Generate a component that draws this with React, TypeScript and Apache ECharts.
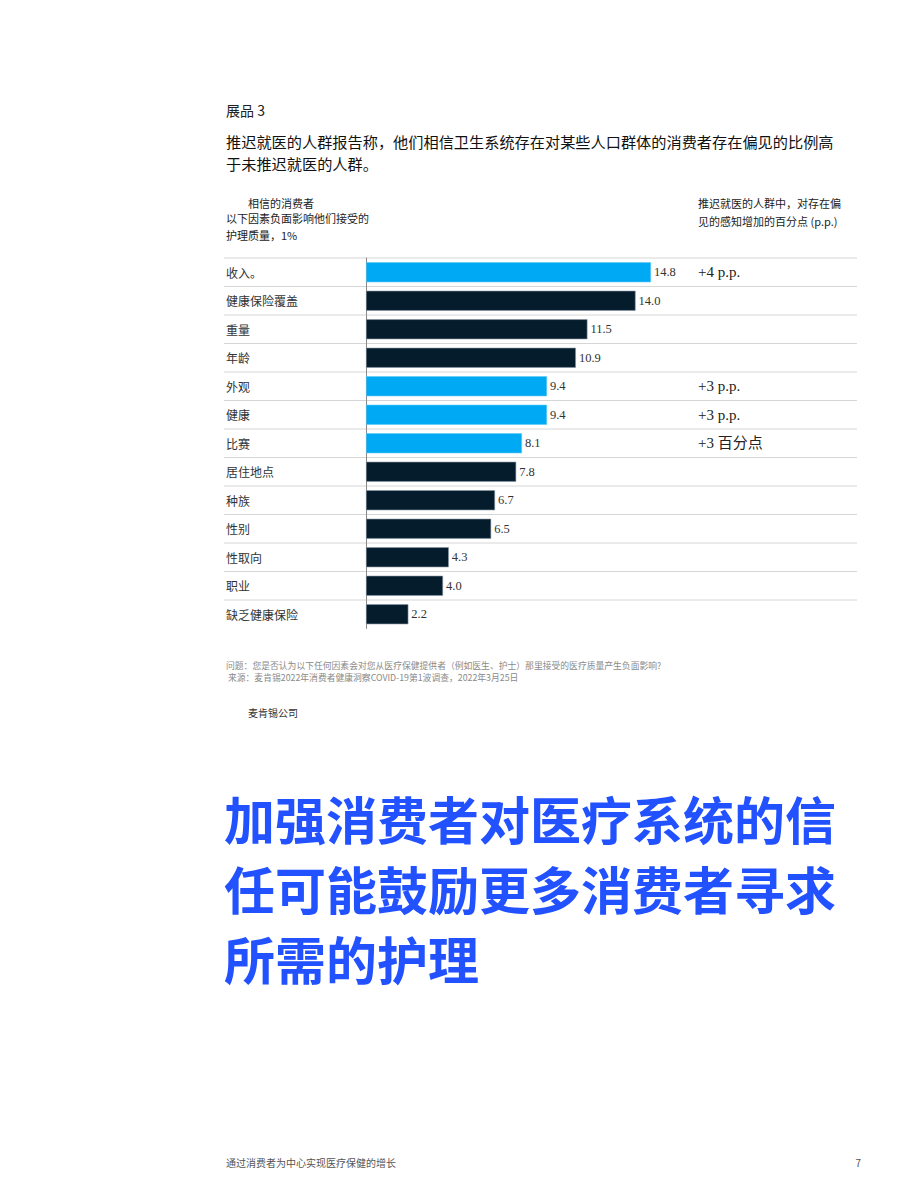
import React, { useEffect, useRef } from "react";
import * as echarts from "echarts";

const categories = [
  "收入。",
  "健康保险覆盖",
  "重量",
  "年龄",
  "外观",
  "健康",
  "比赛",
  "居住地点",
  "种族",
  "性别",
  "性取向",
  "职业",
  "缺乏健康保险",
];
const values = [14.8, 14.0, 11.5, 10.9, 9.4, 9.4, 8.1, 7.8, 6.7, 6.5, 4.3, 4.0, 2.2];
const highlighted = [true, false, false, false, true, true, true, false, false, false, false, false, false];
const annotations = ["+4 p.p.", "", "", "", "+3 p.p.", "+3 p.p.", "+3 百分点", "", "", "", "", "", ""];

const BLUE = "#00A9F4";
const NAVY = "#051C2C";
const CJK = "'Noto Sans CJK SC', 'Noto Sans', sans-serif";
const SERIF = "'Liberation Serif', 'DejaVu Serif', serif";

export default function App() {
  const ref = useRef<HTMLDivElement>(null);

  useEffect(() => {
    if (!ref.current) return;
    const chart = echarts.init(ref.current, null, { renderer: "svg" });

    const gridLeft = 366;
    const gridTop = 258;
    const bandH = 28.5;
    const gridHeight = bandH * categories.length;
    const gridWidth = 491;

    const separators = categories.map((_, i) => ({
      type: "line",
      shape: { x1: 224, y1: gridTop + i * bandH, x2: gridLeft + gridWidth, y2: gridTop + i * bandH },
      style: { stroke: "#d6d6d6", lineWidth: 1 },
      z: 0,
    }));

    const txt = (text: string, x: number, y: number, fontSize: number, fill: string, extra: any = {}) => ({
      type: "text",
      x,
      y,
      style: {
        text,
        fill,
        fontSize,
        fontFamily: CJK,
        align: "left",
        verticalAlign: "middle",
        ...extra,
      },
    });

    chart.setOption({
      animation: false,
      backgroundColor: "#ffffff",
      grid: { left: gridLeft, top: gridTop, width: gridWidth, height: gridHeight, containLabel: false },
      xAxis: {
        type: "value",
        min: 0,
        max: 25.5,
        show: false,
      },
      yAxis: [
        {
          type: "category",
          data: categories,
          inverse: true,
          axisLine: { show: true, lineStyle: { color: "#8a8a8a", width: 1 } },
          axisTick: { show: false },
          splitLine: { show: false },
          axisLabel: {
            align: "left",
            margin: 140,
            color: "#333333",
            fontSize: 12,
            fontFamily: CJK,
          },
        },
        {
          type: "category",
          data: annotations,
          inverse: true,
          position: "right",
          offset: -159,
          axisLine: { show: false },
          axisTick: { show: false },
          splitLine: { show: false },
          axisLabel: {
            align: "left",
            margin: 0,
            color: "#222222",
            fontSize: 15,
            fontFamily: SERIF + ", " + CJK,
          },
        },
      ],
      series: [
        {
          type: "bar",
          data: values.map((v, i) => ({
            value: v,
            itemStyle: {
              color: highlighted[i] ? BLUE : NAVY,
              borderColor: highlighted[i] ? "#5cc8f7" : "#8797a6",
              borderWidth: 0.6,
            },
          })),
          barWidth: 20,
          label: {
            show: true,
            position: "right",
            distance: 3,
            color: "#333333",
            fontSize: 12.5,
            fontFamily: SERIF,
            formatter: (p: any) => Number(p.value).toFixed(1),
          },
          z: 3,
        },
      ],
      graphic: [
        ...separators,
        txt("展品 3", 226, 110, 14, "#222222"),
        txt("推迟就医的人群报告称，他们相信卫生系统存在对某些人口群体的消费者存在偏见的比例高", 226, 141, 15.2, "#111111"),
        txt("于未推迟就医的人群。", 226, 163, 15.2, "#111111"),
        txt("相信的消费者", 248, 203, 11, "#222222"),
        txt("以下因素负面影响他们接受的", 226, 218, 11, "#222222"),
        txt("护理质量，1%", 226, 235, 11, "#222222"),
        txt("推迟就医的人群中，对存在偏", 698, 203, 11, "#222222"),
        txt("见的感知增加的百分点 (p.p.)", 698, 221, 11, "#222222"),
        txt("问题：您是否认为以下任何因素会对您从医疗保健提供者（例如医生、护士）那里接受的医疗质量产生负面影响?", 226, 665.5, 8.8, "#8a8a8a", { lineHeight: 10 }),
        txt(" 来源：麦肯锡2022年消费者健康洞察COVID-19第1波调查，2022年3月25日", 226, 677.5, 8.8, "#8a8a8a", { lineHeight: 10 }),
        txt("麦肯锡公司", 248, 712, 10, "#333333"),
        txt("加强消费者对医疗系统的信", 224, 818, 51, "#2251FF", { fontWeight: "bold" }),
        txt("任可能鼓励更多消费者寻求", 224, 888, 51, "#2251FF", { fontWeight: "bold" }),
        txt("所需的护理", 224, 958, 51, "#2251FF", { fontWeight: "bold" }),
        txt("通过消费者为中心实现医疗保健的增长", 226, 1162, 10, "#555555"),
        txt("7", 861, 1162, 10, "#555555", { align: "right" }),
      ],
    });

    return () => chart.dispose();
  }, []);

  return (
    <div
      ref={ref}
      style={{ position: "absolute", left: 0, top: 0, width: 920, height: 1191, background: "#ffffff" }}
    />
  );
}
